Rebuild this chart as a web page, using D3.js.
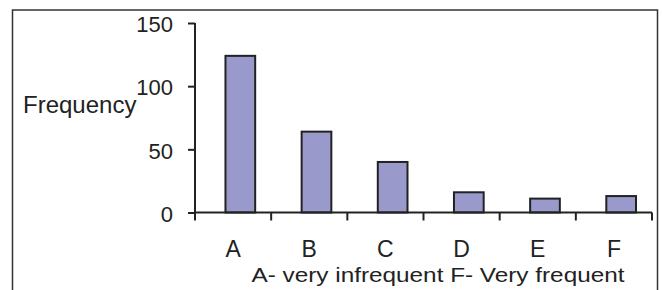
<!DOCTYPE html>
<html>
<head>
<meta charset="utf-8">
<script src="https://cdn.jsdelivr.net/npm/d3@7"></script>
<style>
    body { margin: 0; background: #fff; }
    svg { display: block; font-family: "Liberation Sans", Arial, sans-serif; }
    .axis-line { stroke: #222; stroke-width: 2; fill: none; }
    .bar { fill: #9999cc; stroke: #222; stroke-width: 2; }
    .tick-label { fill: #222; }
</style>
</head>
<body>
<svg id="chart" width="662" height="290"></svg>
<script>
// chart data
const categories = ['A', 'B', 'C', 'D', 'E', 'F'];
const frequency = [124, 64, 40, 16, 11, 13];
const yTicks = [0, 50, 100, 150];
const yTitle = 'Frequency';
const xTitle = 'A- very infrequent F- Very frequent';

const svg = d3.select('#chart');

// outer frame (bottom edge runs off the picture)
svg.append('rect')
    .attr('x', 12.5).attr('y', 10)
    .attr('width', 645).attr('height', 300)
    .attr('fill', 'none').attr('stroke', '#333').attr('stroke-width', 1.5);

const x = d3.scaleBand().domain(categories).range([195, 652]).padding(0);
const y = d3.scaleLinear().domain([0, 150]).range([212.5, 23]);
const bw = x.bandwidth();

// bars sit a bit right of the band centre, like the source
svg.selectAll('.bar')
    .data(categories)
    .enter()
    .append('rect')
    .attr('class', 'bar')
    .attr('x', (d) => x(d) + bw * 0.4)
    .attr('width', bw * 0.39)
    .attr('y', (d, i) => y(frequency[i]))
    .attr('height', (d, i) => y(0) - y(frequency[i]));

// y axis
const yAxis = svg.append('g')
    .attr('transform', `translate(${x.range()[0]},0)`)
    .call(d3.axisLeft(y).tickValues(yTicks).tickSize(7).tickSizeOuter(0).tickPadding(15));
yAxis.select('.domain').remove();
yAxis.selectAll('.tick line').attr('class', 'axis-line');
yAxis.selectAll('.tick text')
    .attr('class', 'tick-label')
    .style('font-size', '22px')
    .attr('dy', '0.40em');
svg.append('line')
    .attr('class', 'axis-line')
    .attr('x1', x.range()[0]).attr('x2', x.range()[0])
    .attr('y1', y(150)).attr('y2', y(0) + 8);

// x axis with ticks on band boundaries
const xAxis = svg.append('g')
    .attr('transform', `translate(0,${y(0)})`)
    .call(d3.axisBottom(x).tickSize(0));
xAxis.select('.domain').remove();
xAxis.selectAll('.tick text')
    .attr('class', 'tick-label')
    .style('font-size', '23px')
    .attr('y', 44)
    .attr('dy', 0);
xAxis.append('line')
    .attr('class', 'axis-line')
    .attr('x1', x.range()[0]).attr('x2', x.range()[1]);
xAxis.selectAll('.boundary')
    .data(categories.slice(1).map((c) => x(c)).concat([x.range()[1]]))
    .enter()
    .append('line')
    .attr('class', 'axis-line boundary')
    .attr('x1', (d) => d).attr('x2', (d) => d)
    .attr('y1', 0).attr('y2', 8);

// titles
svg.append('text')
    .attr('x', 23).attr('y', 113)
    .attr('fill', '#222')
    .style('font-size', '24px')
    .text(yTitle);

svg.append('text')
    .attr('x', 438).attr('y', 282)
    .attr('text-anchor', 'middle')
    .attr('fill', '#222')
    .attr('textLength', 373)
    .attr('lengthAdjust', 'spacingAndGlyphs')
    .style('font-size', '21px')
    .text(xTitle);
</script>
</body>
</html>
